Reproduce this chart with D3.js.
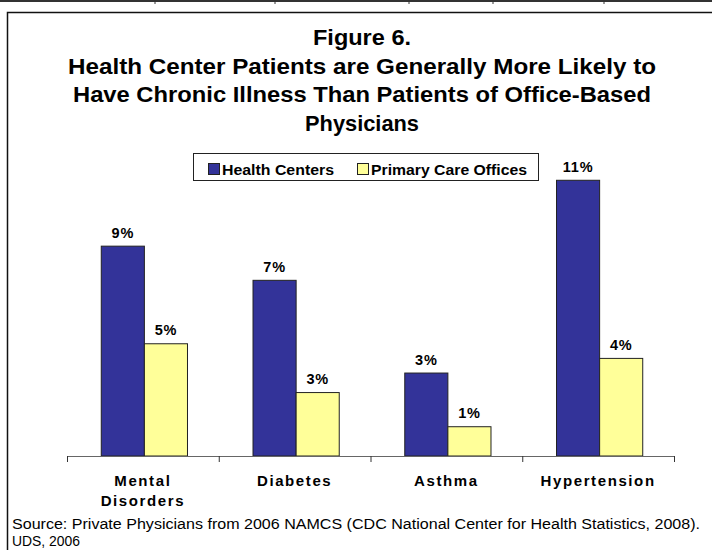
<!DOCTYPE html>
<html>
<head>
<meta charset="utf-8">
<script src="https://cdn.jsdelivr.net/npm/d3@7"></script>
<style>
    body { margin: 0; background: #fff; }
    svg { display: block; font-family: Arial, "Liberation Sans", sans-serif; }
</style>
</head>
<body>
<div class="chart"></div>
<script>
const categories = ["Mental|Disorders", "Diabetes", "Asthma", "Hypertension"];
const seriesNames = ["Health Centers", "Primary Care Offices"];
const healthCenters = [8.6, 7.2, 3.4, 11.3];
const primaryCare = [4.6, 2.6, 1.2, 4.0];
const valueLabels = [["9%", "7%", "3%", "11%"], ["5%", "3%", "1%", "4%"]];
const colors = ["#333399", "#FFFF99"];

const titleLines = [
    "Figure 6.",
    "Health Center Patients are Generally More Likely to",
    "Have Chronic Illness Than Patients of Office-Based",
    "Physicians"
];
const titleWidths = [98, 588, 578, 114];
const sourceLines = [
    "Source: Private Physicians from 2006 NAMCS (CDC National Center for Health Statistics, 2008).",
    "UDS, 2006"
];

const width = 712, height = 550;

const svg = d3.select(".chart").append("svg")
    .attr("width", width)
    .attr("height", height);

// leftover table edge at the very top
svg.append("line")
    .attr("x1", 0).attr("x2", width)
    .attr("y1", 1).attr("y2", 1)
    .attr("stroke", "#333")
    .attr("stroke-width", 2);
[155, 275, 409, 493, 604].forEach(x => {
    svg.append("line")
        .attr("x1", x).attr("x2", x)
        .attr("y1", 0).attr("y2", 4)
        .attr("stroke", "#333");
});

// frame
svg.append("rect")
    .attr("x", 7.5).attr("y", 12.5)
    .attr("width", 740).attr("height", 580)
    .attr("fill", "none")
    .attr("stroke", "#111")
    .attr("stroke-width", 1.5);

// title
svg.selectAll("text.title")
    .data(titleLines)
    .enter().append("text")
    .attr("class", "title")
    .attr("x", 362)
    .attr("y", (d, i) => 45 + i * 28.5)
    .attr("text-anchor", "middle")
    .attr("font-size", 21.5)
    .attr("font-weight", "bold")
    .attr("textLength", (d, i) => titleWidths[i])
    .attr("lengthAdjust", "spacingAndGlyphs")
    .text(d => d);

// scales
const x0 = d3.scaleBand()
    .domain(categories)
    .range([67, 674])
    .padding(0);

const x1 = d3.scaleBand()
    .domain(seriesNames)
    .range([0, x0.bandwidth()])
    .paddingInner(0)
    .paddingOuter(0.76);

const y = d3.scaleLinear()
    .domain([0, 12])
    .range([456, 456 - 12 * 24.4]);

const series = [healthCenters, primaryCare];

// bars
const groups = svg.selectAll("g.series")
    .data(series)
    .enter().append("g")
    .attr("class", "series");

groups.each(function (vals, s) {
    const g = d3.select(this);
    g.selectAll("rect")
        .data(vals)
        .enter().append("rect")
        .attr("x", (d, i) => x0(categories[i]) + x1(seriesNames[s]) + 1.5)
        .attr("y", d => y(d))
        .attr("width", x1.bandwidth())
        .attr("height", d => y(0) - y(d))
        .attr("fill", colors[s])
        .attr("stroke", "#222")
        .attr("stroke-width", 1);

    g.selectAll("text")
        .data(vals)
        .enter().append("text")
        .attr("x", (d, i) => x0(categories[i]) + x1(seriesNames[s]) + 1.5 + x1.bandwidth() / 2)
        .attr("y", d => y(d) - 8.5)
        .attr("text-anchor", "middle")
        .attr("font-size", 14.5)
        .attr("font-weight", "bold")
        .attr("letter-spacing", 0.8)
        .text((d, i) => valueLabels[s][i]);
});

// x axis
const axis = svg.append("g");
axis.append("line")
    .attr("x1", 67).attr("x2", 674)
    .attr("y1", 456.5).attr("y2", 456.5)
    .attr("stroke", "#666")
    .attr("stroke-width", 1);

const tickPos = categories.map(c => x0(c)).concat([x0.range()[1]]);
axis.selectAll("line.tick")
    .data(tickPos)
    .enter().append("line")
    .attr("class", "tick")
    .attr("x1", d => d + 0.5).attr("x2", d => d + 0.5)
    .attr("y1", 456).attr("y2", 462)
    .attr("stroke", "#333");

// category labels
svg.selectAll("text.cat")
    .data(categories)
    .enter().append("text")
    .attr("class", "cat")
    .attr("text-anchor", "middle")
    .attr("font-size", 15)
    .attr("font-weight", "bold")
    .attr("letter-spacing", 1.6)
    .each(function (d) {
        const lines = d.split("|");
        d3.select(this).selectAll("tspan")
            .data(lines)
            .enter().append("tspan")
            .attr("x", x0(d) + x0.bandwidth() / 2)
            .attr("y", (l, i) => 486 + i * 20)
            .text(l => l);
    });

// legend
const legend = svg.append("g");
legend.append("rect")
    .attr("x", 193.5).attr("y", 153.5)
    .attr("width", 345).attr("height", 27)
    .attr("fill", "#fff")
    .attr("stroke", "#222")
    .attr("stroke-width", 1);

const legendX = [208, 357];
const legendTextW = [112, 156];
seriesNames.forEach((name, i) => {
    legend.append("rect")
        .attr("x", legendX[i] + 0.5).attr("y", 163.5)
        .attr("width", 11).attr("height", 11)
        .attr("fill", colors[i])
        .attr("stroke", "#222");
    legend.append("text")
        .attr("x", legendX[i] + 14)
        .attr("y", 174.5)
        .attr("font-size", 14.5)
        .attr("font-weight", "bold")
        .attr("textLength", legendTextW[i])
        .attr("lengthAdjust", "spacingAndGlyphs")
        .text(name);
});

// source note
svg.selectAll("text.source")
    .data(sourceLines)
    .enter().append("text")
    .attr("class", "source")
    .attr("x", 12)
    .attr("y", (d, i) => 529 + i * 17)
    .attr("font-size", 14)
    .attr("textLength", (d, i) => i === 0 ? 688 : 68)
    .attr("lengthAdjust", "spacingAndGlyphs")
    .text(d => d);
</script>
</body>
</html>
